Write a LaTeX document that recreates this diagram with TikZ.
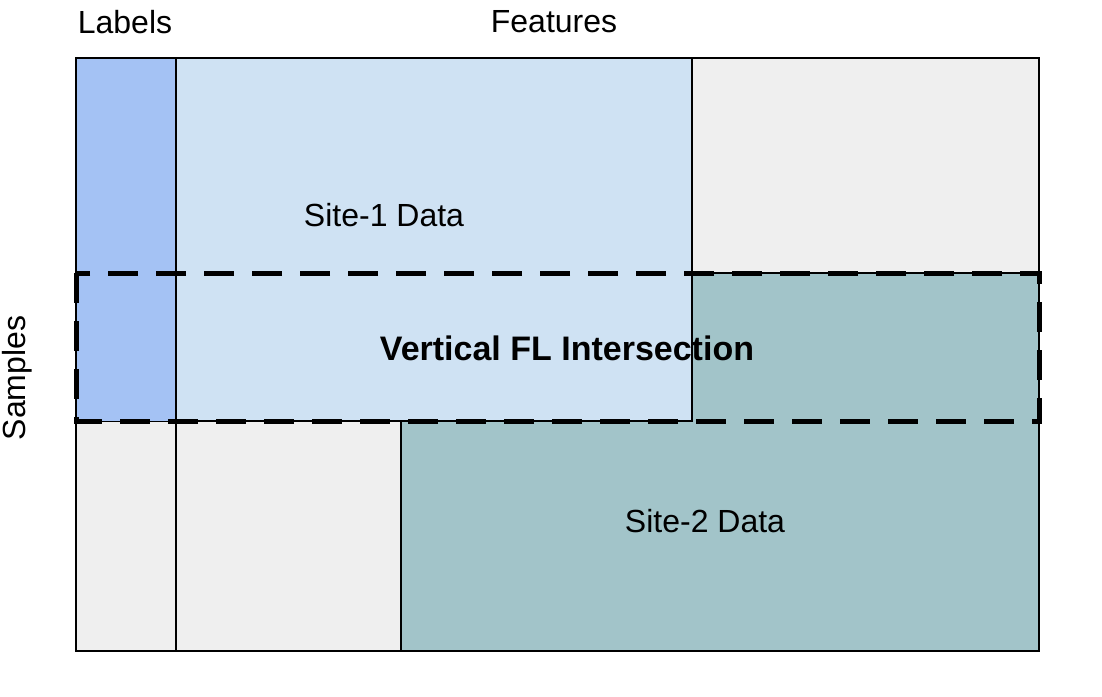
\documentclass[tikz,border=0pt]{standalone}
\usepackage{fontspec}
\setmainfont{Liberation Sans}
\usepackage{tikz}
\definecolor{greycell}{HTML}{EFEFEF}
\definecolor{siteone}{HTML}{CFE2F3}
\definecolor{labelcol}{HTML}{A4C2F4}
\definecolor{sitetwo}{HTML}{A2C4C9}
\begin{document}
\begin{tikzpicture}[x=0.5pt,y=-0.5pt,
    cell/.style={draw=black,line width=0.75pt},
    lbl/.style={font=\fontsize{16}{18}\selectfont,inner sep=0pt},
    overlap/.style={draw=black,line width=2.5pt,dash pattern=on 15pt off 9pt}]
   \useasboundingbox (0,0) rectangle (1102,696);
   % background and the two sites
   \filldraw[cell,fill=greycell] (76,58) rectangle (1039,651);
   \filldraw[cell,fill=sitetwo] (401,273) rectangle (1039,651);
   \filldraw[cell,fill=siteone] (76,58) rectangle (692,421);
   \fill[labelcol] (76,58) rectangle (176,421);
   \draw[cell] (176,58) -- (176,651);
   \draw[cell] (76,58) rectangle (1039,651);
   % intersection
   \draw[overlap] (76,273) rectangle (1039,421);
   % texts
   \node[lbl] (labels) at (125,22) {Labels};
   \node[lbl] (features) at (554,22) {Features};
   \node[lbl,rotate=90] (samples) at (17,378) {Samples};
   \node[lbl] (one) at (384,215) {Site-1 Data};
   \node[lbl] (two) at (705,521) {Site-2 Data};
   \node[lbl,font=\fontsize{17}{19}\selectfont\bfseries] (inter) at (567,348) {Vertical FL Intersection};
\end{tikzpicture}
\end{document}
